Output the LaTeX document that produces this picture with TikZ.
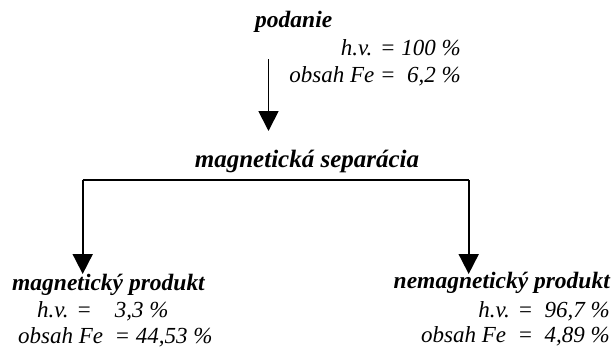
\documentclass[tikz,border=0pt]{standalone}
\usepackage{fontspec}
\setmainfont{Liberation Serif}
\usetikzlibrary{arrows.meta}
\begin{document}
\begin{tikzpicture}[x=1pt,y=-1pt,
  title/.style={inner sep=0pt,font=\bfseries\itshape\fontsize{23.5}{26}\selectfont},
  bigtitle/.style={inner sep=0pt,font=\bfseries\itshape\fontsize{25}{28}\selectfont},
  val/.style={inner sep=0pt,font=\itshape\fontsize{23}{26}\selectfont},
  conn/.style={line width=1.8pt,-{Triangle[width=20pt,length=20pt]}}]
\useasboundingbox (0,0) rectangle (613,349);
\node[title,anchor=base west] (feed) at (255,27) {podanie};
\node[val,anchor=base east] (fhv) at (461,55) {h.v. = 100 \%};
\node[val,anchor=base east] (ffe) at (461,82) {obsah Fe = \ 6,2 \%};
\coordinate (a1) at (268.5,59);
\node[bigtitle,anchor=base] (sep) at (307,167) {magnetická separácia};
\coordinate (sepb) at (268.5,131);
\draw[conn] (a1) -- (sepb);
\coordinate (hl) at (82.7,180);
\coordinate (hr) at (468.7,180);
\node[title,anchor=base west] (mag) at (12,290) {magnetický produkt};
\node[val,anchor=base west] (mhv) at (37,317) {h.v. = \ \ \ 3,3 \%};
\node[val,anchor=base west] (mfe) at (18,343) {obsah Fe \ = 44,53 \%};
\node[title,anchor=base east] (nmag) at (610,288) {nemagnetický produkt};
\node[val,anchor=base east] (nhv) at (610,317) {h.v. = \ 96,7 \%};
\node[val,anchor=base east] (nfe) at (610,342) {obsah Fe \ = \ 4,89 \%};
\coordinate (mt) at (82.7,274);
\coordinate (nt) at (468.7,274);
\draw[line width=1.8pt] (hl) -- (hr);
\draw[conn] (hl) -- (mt);
\draw[conn] (hr) -- (nt);
\end{tikzpicture}
\end{document}
